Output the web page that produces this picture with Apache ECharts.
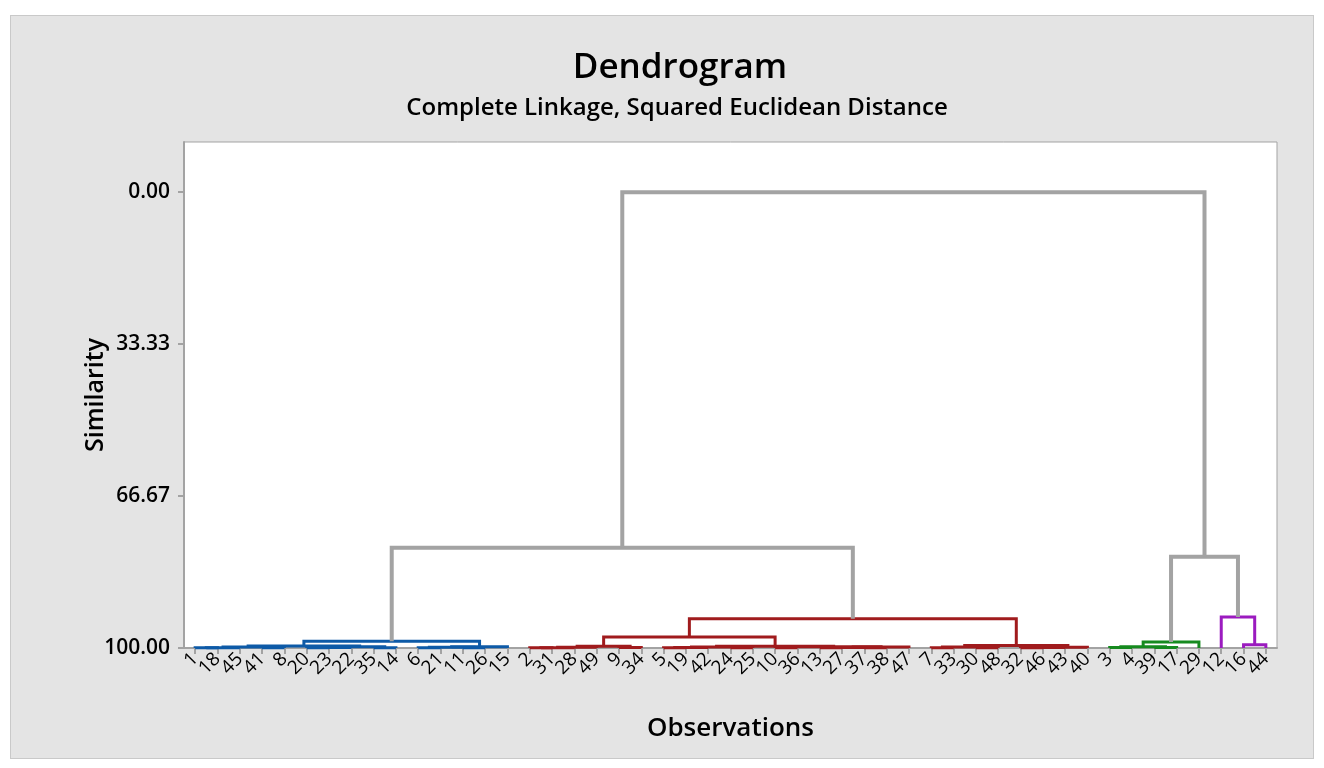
<!DOCTYPE html>
<html>
<head>
<meta charset="utf-8">
<script src="https://cdn.jsdelivr.net/npm/echarts@6/dist/echarts.min.js"></script>
<style>
  html, body { margin: 0; padding: 0; background: #fff; }
  #panel { position: absolute; left: 10px; top: 15px; width: 1302px; height: 742px; background: #e4e4e4; border: 1px solid #c9c9c9; }
  #main { position: absolute; left: 0; top: 0; width: 1324px; height: 768px; }
</style>
</head>
<body>
<div id="panel"></div>
<div id="main"></div>
<script>
// leaf labels, left to right
var labels = ['1','18','45','41','8','20','23','22','35','14','6','21','11','26','15',
  '2','31','28','49','9','34','5','19','42','24','25','10','36','13','27','37','38','47',
  '7','33','30','48','32','46','43','40',
  '3','4','39','17','29',
  '12','16','44'];

// cluster of each leaf (0 blue, 1 red, 2 green, 3 purple)
var leafGroup = [0,0,0,0,0,0,0,0,0,0,0,0,0,0,0,
  1,1,1,1,1,1,1,1,1,1,1,1,1,1,1,1,1,1,1,1,1,1,1,1,1,1,
  2,2,2,2,2,
  3,3,3];

// merge steps: [child a, child b, similarity]; ids >= 49 are earlier merges
var merges = [
  [0,1,99.97],[49,2,99.93],[3,4,99.95],[50,51,99.8],[5,6,99.96],[53,7,99.9],
  [8,9,99.95],[54,55,99.75],[52,56,99.55],[10,11,99.95],[12,13,99.93],[58,59,99.85],
  [60,14,99.7],[57,61,98.5],
  [15,16,99.97],[63,17,99.93],[64,18,99.85],[19,20,99.9],[65,66,99.6],
  [21,22,99.95],[68,23,99.9],[24,25,99.93],[69,70,99.8],[26,27,99.95],[28,29,99.96],
  [30,31,99.94],[73,74,99.88],[75,32,99.8],[72,76,99.7],[71,77,99.6],[67,78,97.6],
  [33,34,99.95],[35,36,99.93],[80,81,99.8],[37,38,99.95],[83,39,99.9],[84,40,99.85],
  [82,85,99.45],[79,86,93.6],
  [62,87,78.0],
  [41,42,99.9],[43,44,99.9],[89,90,99.75],[91,45,98.7],
  [47,48,99.3],[46,93,93.2],[92,94,80.0],
  [88,95,0.0]
];

var yTicks = [0, 100/3, 200/3, 100];
var groupColors = ['#0d5aa7', '#a01b1d', '#168a1f', '#9b1bbf'];
var linkColor = '#a3a3a3';

var chart = echarts.init(document.getElementById('main'));

// node position / height / group, leaves first
var nodeX = [], nodeH = [], nodeG = [];
labels.forEach(function(l, i){ nodeX.push(i); nodeH.push(100); nodeG.push(leafGroup[i]); });
var links = [];
merges.forEach(function(m){
  var a = m[0], b = m[1];
  var g = nodeG[a] === nodeG[b] ? nodeG[a] : -1;
  links.push([nodeX[a], nodeH[a], nodeX[b], nodeH[b], m[2], g]);
  nodeX.push((nodeX[a] + nodeX[b]) / 2);
  nodeH.push(m[2]);
  nodeG.push(g);
});

var font = '"Open Sans", "Noto Sans", sans-serif';

chart.setOption({
  animation: false,
  title: [{
    text: 'Dendrogram',
    left: 675, top: 46, textAlign: 'center',
    textStyle: { fontFamily: font, fontSize: 35, fontWeight: 600, color: '#000' }
  },{
    text: 'Complete Linkage, Squared Euclidean Distance',
    left: 672, top: 91, textAlign: 'center',
    textStyle: { fontFamily: font, fontSize: 24, fontWeight: 600, color: '#000' }
  }],
  grid: {
    left: 184, right: 47, top: 142, bottom: 120,
    show: true, backgroundColor: '#fff', borderColor: '#a3a3a3', borderWidth: 1
  },
  xAxis: [{
    // leaf labels and ticks
    type: 'category', data: labels, boundaryGap: true,
    name: 'Observations', nameLocation: 'middle', nameGap: 68, nameMoveOverlap: false,
    nameTextStyle: { fontFamily: font, fontSize: 26, fontWeight: 600, color: '#000' },
    axisLine: { show: true, onZero: false, lineStyle: { color: '#a3a3a3', width: 2 } },
    axisTick: { show: true, length: 6, interval: 0, alignWithLabel: true,
      lineStyle: { color: '#a3a3a3', width: 2 } },
    axisLabel: {
      interval: 0, rotate: 45, margin: 8,
      fontFamily: font, fontSize: 19, color: '#000'
    },
    splitLine: { show: false }
  },{
    // numeric leaf positions for the links
    type: 'value', min: -0.5, max: 48.5, show: false
  }],
  yAxis: {
    type: 'value', inverse: true, min: -11, max: 100,
    name: 'Similarity', nameLocation: 'middle', nameGap: 76, nameMoveOverlap: false,
    nameTextStyle: { fontFamily: font, fontSize: 25, fontWeight: 600, color: '#000' },
    axisLine: { show: true, onZero: false, lineStyle: { color: '#a3a3a3', width: 2 } },
    axisTick: { show: true, length: 6, customValues: yTicks,
      lineStyle: { color: '#a3a3a3', width: 2 } },
    axisLabel: {
      customValues: yTicks, margin: 14,
      showMinLabel: true, showMaxLabel: true,
      fontFamily: font, fontSize: 21, fontWeight: 600, color: '#000',
      formatter: function(v){ return v.toFixed(2); }
    },
    splitLine: { show: false }
  },
  series: [{
    type: 'custom',
    coordinateSystem: 'cartesian2d',
    xAxisIndex: 1,
    clip: false,
    encode: { x: [0, 2], y: [1, 3, 4] },
    data: links,
    renderItem: function(params, api){
      var p1 = api.coord([api.value(0), api.value(1)]);
      var p2 = api.coord([api.value(0), api.value(4)]);
      var p3 = api.coord([api.value(2), api.value(4)]);
      var p4 = api.coord([api.value(2), api.value(3)]);
      var g = api.value(5);
      return {
        type: 'polyline',
        shape: { points: [p1, p2, p3, p4] },
        style: { fill: null, stroke: g < 0 ? linkColor : groupColors[g], lineWidth: g < 0 ? 4 : 3, lineJoin: 'miter' }
      };
    }
  }]
});
</script>
</body>
</html>
